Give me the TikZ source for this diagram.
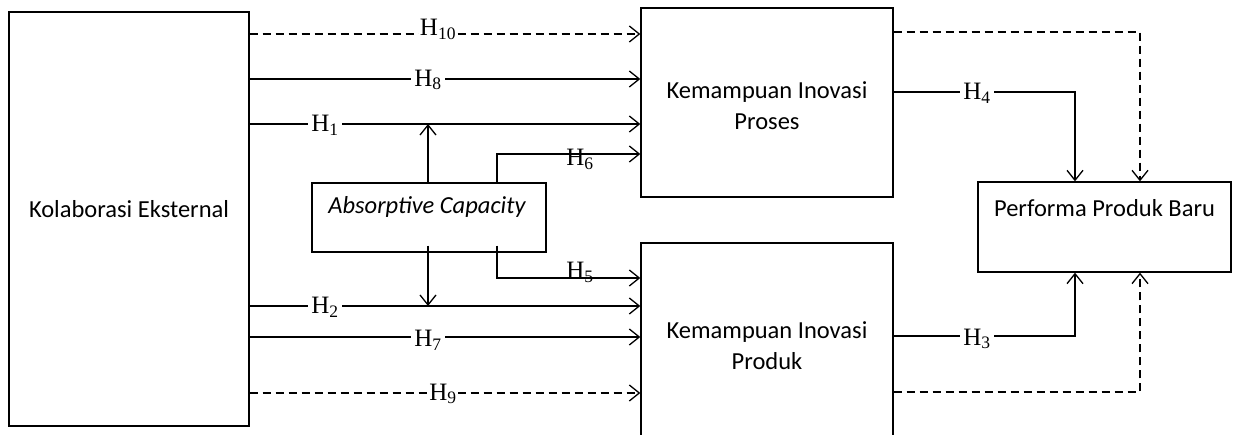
\documentclass[tikz,border=0pt]{standalone}
\usepackage{fontspec}
\setmainfont{Carlito}
\newfontfamily\hfont{Liberation Serif}
\usetikzlibrary{arrows.meta}
\begin{document}
\begin{tikzpicture}[x=1pt,y=-1pt, line width=1.3pt,
  box/.style={draw, rectangle, inner sep=0pt},
  lbl/.style={font=\hfont\fontsize{25}{25}\selectfont, inner sep=3pt, fill=white},
  lbltight/.style={lbl, inner sep=1pt},
  lblclear/.style={font=\hfont\fontsize{25}{25}\selectfont, inner sep=0pt},
  txt/.style={font=\fontsize{24.5}{31}\selectfont, align=center, inner sep=0pt},
  arr/.style={-{Straight Barb[length=10pt,width=16pt]}},
  dsh/.style={arr, dash pattern=on 8pt off 5pt}]
\clip (0,0) rectangle (1233,435);
\fill[white] (0,0) rectangle (1233,435);

% boxes
\node[box, minimum width=240pt, minimum height=414pt] (kol) at (129,219) {};
\node[box, minimum width=252pt, minimum height=189pt] (proses) at (767,102.5) {};
\node[box, minimum width=252pt, minimum height=206pt] (produk) at (767,346) {};
\node[box, minimum width=253pt, minimum height=90pt] (perf) at (1104.5,227) {};
\node[box, minimum width=234pt, minimum height=69pt] (abs) at (429,217.5) {};

% box texts
\node[txt] (tkol) at (129,209) {Kolaborasi Eksternal};
\node[txt] (tproses) at (767,106) {Kemampuan Inovasi\\Proses};
\node[txt] (tproduk) at (767,346) {Kemampuan Inovasi\\Produk};
\node[txt] (tperf) at (1104.5,208) {Performa Produk Baru};
\node[txt] (tabs) at (427,207) {\itshape Absorptive Capacity};

% helper coordinates
\coordinate (a5) at ([yshift=7pt]abs.south);
\coordinate (j1) at (428,124);
\coordinate (j2) at (428,306);

% left connectors
\draw[dsh] (kol.east |- 0,34) -- (proses.west |- 0,34);
\draw[arr] (kol.east |- 0,79) -- (proses.west |- 0,79);
\draw[arr] (kol.east |- 0,124) -- (proses.west |- 0,124);
\draw[arr] (abs.north -| j1) -- (j1);
\draw[arr] (abs.north -| 497,0) |- (proses.west |- 0,154);
\draw[arr] (a5 -| 497,0) |- (produk.west |- 0,278);
\draw[arr] (a5 -| j2) -- (j2);
\draw[arr] (kol.east |- 0,306) -- (produk.west |- 0,306);
\draw[arr] (kol.east |- 0,337) -- (produk.west |- 0,337);
\draw[dsh] (kol.east |- 0,393) -- (produk.west |- 0,393);

% right connectors
\draw[dsh] (proses.east |- 0,32) -| (perf.north -| 1140,0);
\draw[arr] (proses.east |- 0,92) -| (perf.north -| 1075,0);
\draw[arr] (produk.east |- 0,336) -| (perf.south -| 1075,0);
\draw[dsh] (produk.east |- 0,392) -| (perf.south -| 1140,0);

% labels
\node[lbltight, anchor=base] (h10) at (438,36) {H\textsubscript{10}};
\node[lbl] (h8) at (428,80) {H\textsubscript{8}};
\node[lbl] (h1) at (325,125) {H\textsubscript{1}};
\node[lblclear, anchor=base] (h6) at (580,166) {H\textsubscript{6}};
\node[lblclear, anchor=base] (h5) at (580,279) {H\textsubscript{5}};
\node[lbl] (h2) at (325,307) {H\textsubscript{2}};
\node[lbl] (h7) at (428,340) {H\textsubscript{7}};
\node[lbltight] (h9) at (443,394) {H\textsubscript{9}};
\node[lbl] (h4) at (977,93) {H\textsubscript{4}};
\node[lbl] (h3) at (977,339) {H\textsubscript{3}};
\end{tikzpicture}
\end{document}
